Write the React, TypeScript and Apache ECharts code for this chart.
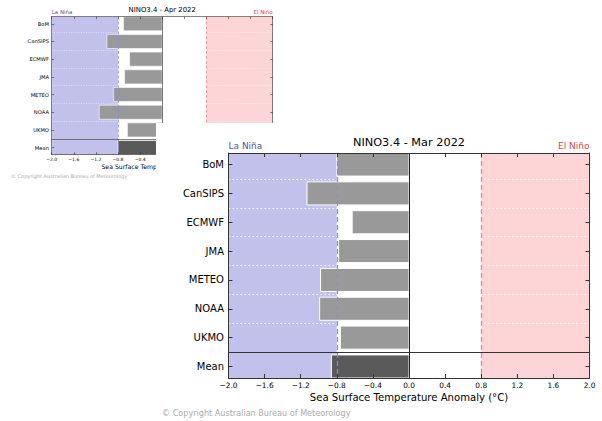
import React, { useEffect, useRef } from 'react';
import * as echarts from 'echarts';

const categories = ['BoM', 'CanSIPS', 'ECMWF', 'JMA', 'METEO', 'NOAA', 'UKMO', 'Mean'];
const mar2022 = [-0.8, -1.13, -0.63, -0.78, -0.98, -0.99, -0.76, -0.86];
const apr2022 = [-0.7, -1.0, -0.59, -0.68, -0.88, -1.14, -0.63, -0.8];
const xMin = -2.0;
const xMax = 2.0;
const xStep = 0.4;
const laNinaThreshold = -0.8;
const elNinoThreshold = 0.8;
const separatorAt = 6.5;
const dottedAt = [0.5, 1.5, 2.5, 3.5, 4.5, 5.5];

const FONT = 'DejaVu Sans';
const BLUE = '#c1c1eb';
const PINK = '#fed5d6';
const BLUE_DASH = '#8a8ad8';
const RED_DASH = '#e4808c';
const BAR = '#999999';
const BAR_MEAN = '#5a5a5a';

function fmtTick(v: number) {
  if (Math.abs(v) < 1e-9) return '0.0';
  return v.toFixed(1).replace('-', '\u2212');
}

interface Layout { L: number; T: number; W: number; H: number; s: number; }
interface Fonts { title: number; label: number; tick: number; name: number; nino: number; copy: number; }

function txt(text: string, x: number, y: number, size: number, fill: string, align: string) {
  return {
    type: 'text', x, y, silent: true, z: 10,
    style: {
      text, fill, fontSize: size, fontFamily: FONT,
      align, textAlign: align, verticalAlign: 'middle', textVerticalAlign: 'middle',
    },
  };
}

function buildOption(title: string, values: number[], lay: Layout, f: Fonts) {
  const { L, T, W, H, s } = lay;
  const yMin = -0.4;
  const yMax = categories.length - 1 + 0.4;
  const catIdx = categories.map((_, i) => i);
  const lw = Math.max(0.6, s);
  const axisLine = { show: true, onZero: false, lineStyle: { color: '#333', width: lw } };
  const tickStyle = { color: '#333', width: lw };
  const xBase = { type: 'value', min: xMin, max: xMax, interval: xStep, splitLine: { show: false }, axisLine, z: 5 };
  const yBase = { type: 'value', inverse: true, min: yMin, max: yMax, splitLine: { show: false }, axisLine, z: 5 };
  const xTick = { show: true, inside: true, length: 4 * s, lineStyle: tickStyle };
  const yTick = { show: true, inside: true, length: 4 * s, lineStyle: tickStyle, customValues: catIdx };
  const dash = [5 * s, 3 * s];
  return {
    animation: false,
    grid: { left: L, top: T, width: W, height: H, containLabel: false, outerBoundsMode: 'none' },
    xAxis: [
      {
        ...xBase, position: 'bottom', axisTick: xTick,
        axisLabel: { show: true, margin: 3.6 * s, fontSize: f.tick, fontFamily: FONT, color: '#000', formatter: fmtTick },
      },
      { ...xBase, position: 'top', axisTick: xTick, axisLabel: { show: false } },
    ],
    yAxis: [
      {
        ...yBase, position: 'left', axisTick: yTick,
        axisLabel: {
          show: true, customValues: catIdx, margin: 4.5 * s, fontSize: f.label, fontFamily: FONT, color: '#000',
          formatter: (v: number) => categories[Math.round(v)] ?? '',
        },
      },
      { ...yBase, position: 'right', axisTick: yTick, axisLabel: { show: false } },
    ],
    graphic: [
      txt(title, L + W / 2, T - 10.5 * s, f.title, '#000', 'center'),
      txt('La Niña', L, T - 7.5 * s, f.nino, '#55559d', 'left'),
      txt('El Niño', L + W, T - 7.5 * s, f.nino, '#d0474f', 'right'),
      txt('Sea Surface Temperature Anomaly (°C)', L + W / 2, T + H + 19.7 * s, f.name, '#000', 'center'),
      txt('© Copyright Australian Bureau of Meteorology', L - 66.5 * s, T + H + 35 * s, f.copy, '#aaaaaa', 'left'),
    ],
    series: [
      {
        type: 'line', data: [], xAxisIndex: 0, yAxisIndex: 0, z: 1, silent: true,
        markArea: {
          silent: true,
          itemStyle: { opacity: 1, borderWidth: 0 },
          data: [
            [{ xAxis: xMin, itemStyle: { color: BLUE, opacity: 1 } }, { xAxis: laNinaThreshold }],
            [{ xAxis: elNinoThreshold, itemStyle: { color: PINK, opacity: 1 } }, { xAxis: xMax }],
          ],
        },
      },
      {
        type: 'line', data: [], xAxisIndex: 0, yAxisIndex: 0, z: 2, silent: true,
        markLine: {
          silent: true, symbol: 'none', label: { show: false },
          lineStyle: { color: '#ffffff', type: [1.5 * s, 2.5 * s], width: lw, opacity: 0.9 },
          data: dottedAt.map((y) => ({ yAxis: y })),
        },
      },
      {
        type: 'custom', coordinateSystem: 'cartesian2d', xAxisIndex: 0, yAxisIndex: 0, z: 3, silent: true,
        clip: true,
        encode: { x: 0, y: 1 },
        data: values.map((v, i) => [v, i]),
        renderItem: (params: any, api: any) => {
          const v = api.value(0);
          const i = api.value(1);
          const p0 = api.coord([0, i]);
          const p1 = api.coord([v, i]);
          const h = api.size([0, 0.8])[1];
          return {
            type: 'rect',
            shape: { x: Math.min(p0[0], p1[0]), y: p1[1] - h / 2, width: Math.abs(p0[0] - p1[0]), height: h },
            style: { fill: i === categories.length - 1 ? BAR_MEAN : BAR, stroke: '#ffffff', lineWidth: s },
          };
        },
      },
      {
        type: 'line', data: [], xAxisIndex: 0, yAxisIndex: 0, z: 4, silent: true,
        markLine: {
          silent: true, symbol: 'none', label: { show: false },
          data: [
            { xAxis: laNinaThreshold, lineStyle: { color: BLUE_DASH, type: dash, width: 1.2 * s } },
            { xAxis: elNinoThreshold, lineStyle: { color: RED_DASH, type: dash, width: 1.2 * s } },
            { xAxis: 0, lineStyle: { color: '#222', type: 'solid', width: lw } },
            { yAxis: separatorAt, lineStyle: { color: '#333', type: 'solid', width: lw } },
          ],
        },
      },
    ],
  };
}

const smallOption = buildOption(
  'NINO3.4 - Apr 2022', apr2022,
  { L: 51.7, T: 16.7, W: 221, H: 138, s: 0.612 },
  { title: 6.9, label: 5.2, tick: 4.5, name: 6.2, nino: 5.5, copy: 5 },
);

const largeOption = buildOption(
  'NINO3.4 - Mar 2022', mar2022,
  { L: 72.5, T: 30, W: 361, H: 225, s: 1 },
  { title: 11.3, label: 10, tick: 7.4, name: 10.1, nino: 9, copy: 8.1 },
);

function Chart({ option, style }: { option: any; style: React.CSSProperties }) {
  const ref = useRef<HTMLDivElement>(null);
  useEffect(() => {
    const chart = echarts.init(ref.current!, null, { renderer: 'svg' });
    chart.setOption(option);
    return () => chart.dispose();
  }, [option]);
  return <div ref={ref} style={style} />;
}

export default function App() {
  return (
    <div style={{ position: 'fixed', left: 0, top: 0, width: 602, height: 421, background: '#fff', overflow: 'hidden' }}>
      <Chart option={smallOption} style={{ position: 'absolute', left: 0, top: 0, width: 602, height: 421 }} />
      <Chart
        option={largeOption}
        style={{ position: 'absolute', left: 156, top: 123, width: 446, height: 298, background: '#fff' }}
      />
    </div>
  );
}
